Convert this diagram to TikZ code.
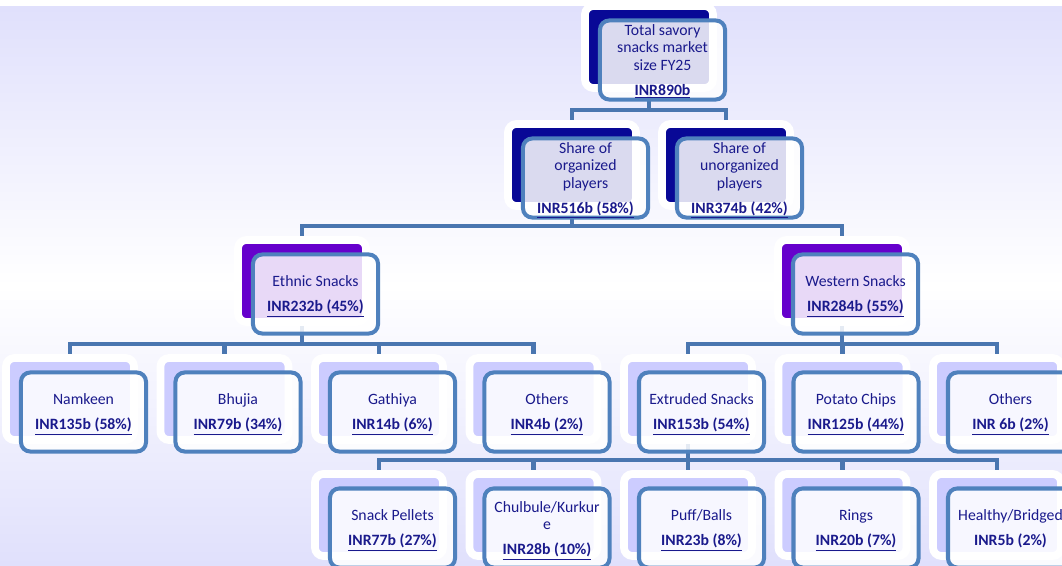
\documentclass[tikz,border=0pt]{standalone}
\usepackage{fontspec}
\setmainfont{Carlito}
\usetikzlibrary{positioning}

\definecolor{bgpurple}{RGB}{224,224,252}
\definecolor{navyback}{RGB}{8,8,150}
\definecolor{violetback}{RGB}{102,0,204}
\definecolor{lilacback}{RGB}{204,204,255}
\definecolor{boxline}{RGB}{79,129,189}
\definecolor{linkline}{RGB}{74,118,176}
\definecolor{labeltext}{RGB}{26,26,140}

\pgfdeclarelayer{bg}
\pgfdeclarelayer{links}
\pgfsetlayers{bg,links,main}

\newcommand{\amt}[1]{\smash{\textbf{\underline{#1}}}}
\newcommand{\amtplain}[1]{\smash{\textbf{#1}}}

\begin{document}
\begin{tikzpicture}[x=0.025cm, y=-0.025cm,
    backbox/.style={rectangle, rounded corners=6pt, draw=white, line width=5.5pt,
        minimum width=3.2cm, minimum height=2.05cm, inner sep=0pt},
    frontbox/.style={rectangle, rounded corners=6.5pt, draw=boxline, line width=2.85pt,
        fill=white, fill opacity=0.85, text opacity=1, text=labeltext,
        minimum width=3.125cm, minimum height=1.975cm, inner sep=1pt, align=center,
        font=\fontsize{11.2}{12.4}\selectfont},
    link/.style={draw=linkline, line width=3.2pt}]
    \useasboundingbox (0,0) rectangle (1062,565);
    \clip (0,0) rectangle (1062,565);

    % Background
    \begin{pgfonlayer}{bg}
        \fill[white] (0,0) rectangle (1062,7);
        \shade[top color=bgpurple, bottom color=bgpurple, middle color=white] (0,7) rectangle (1062,565);
    \end{pgfonlayer}

    % Total market
    \node[backbox, fill=navyback] (tot-b) at (649,47) {};
    \node[frontbox] (tot) at ([shift={(13.5,13)}]tot-b.center) {Total savory\\snacks market\\size FY25\\[5.4pt]\amt{INR890b}};

    % Organized / unorganized
    \node[backbox, fill=navyback] (org-b) at (572,165) {};
    \node[frontbox] (org) at ([shift={(13.5,13)}]org-b.center) {Share of\\organized\\players\\[5.4pt]\amt{INR516b (58\%)}};
    \node[backbox, fill=navyback] (uno-b) at (726,165) {};
    \node[frontbox] (uno) at ([shift={(13.5,13)}]uno-b.center) {Share of\\unorganized\\players\\[5.4pt]\amt{INR374b (42\%)}};

    % Ethnic / western
    \node[backbox, fill=violetback] (eth-b) at (302,281) {};
    \node[frontbox] (eth) at ([shift={(13.5,13)}]eth-b.center) {Ethnic Snacks\\[5.4pt]\amt{INR232b (45\%)}};
    \node[backbox, fill=violetback] (wes-b) at (842,281) {};
    \node[frontbox] (wes) at ([shift={(13.5,13)}]wes-b.center) {Western Snacks\\[5.4pt]\amt{INR284b (55\%)}};

    % Segments
    \foreach \nm/\x/\txt/\val in {nam/70/Namkeen/INR135b (58\%), bhu/224.5/Bhujia/INR79b (34\%),
        gat/379/Gathiya/INR14b (6\%), eoth/533.5/Others/INR4b (2\%),
        ext/688/Extruded Snacks/INR153b (54\%), pot/842.5/Potato Chips/INR125b (44\%),
        woth/997/Others/INR 6b (2\%)} {
        \node[backbox, fill=lilacback] (\nm-b) at (\x,399) {};
        \node[frontbox] (\nm) at ([shift={(13.5,13)}]\nm-b.center) {\txt\\[5.4pt]\amt{\val}};
    }

    % Extruded sub-segments
    \foreach \nm/\x/\txt/\val in {pel/379/Snack Pellets/\amt{INR77b (27\%)},
        chu/533.5/Chulbule\slash Kurkur\\e/\amt{INR28b (10\%)},
        puf/688/Puff\slash Balls/\amt{INR23b (8\%)}, rin/842.5/Rings/\amt{INR20b (7\%)},
        hea/997/Healthy\slash Bridged/\amtplain{INR5b (2\%)}} {
        \node[backbox, fill=lilacback] (\nm-b) at (\x,515) {};
        \node[frontbox] (\nm) at ([shift={(13.5,13)}]\nm-b.center) {\txt\\[5.4pt]\val};
    }

    % Connectors
    \begin{pgfonlayer}{links}
        \foreach \c in {org,uno}
            \draw[link] (tot-b.center) |- ([yshift=0.25cm]\c-b.north) -- (\c-b.north);
        \foreach \c in {eth,wes}
            \draw[link] (org-b.center) |- ([yshift=0.25cm]\c-b.north) -- (\c-b.north);
        \foreach \c in {nam,bhu,gat,eoth}
            \draw[link] (eth-b.center) |- ([yshift=0.25cm]\c-b.north) -- (\c-b.north);
        \foreach \c in {ext,pot,woth}
            \draw[link] (wes-b.center) |- ([yshift=0.25cm]\c-b.north) -- (\c-b.north);
        \foreach \c in {pel,chu,puf,rin,hea}
            \draw[link] (ext-b.center) |- ([yshift=0.25cm]\c-b.north) -- (\c-b.north);
    \end{pgfonlayer}
\end{tikzpicture}
\end{document}
